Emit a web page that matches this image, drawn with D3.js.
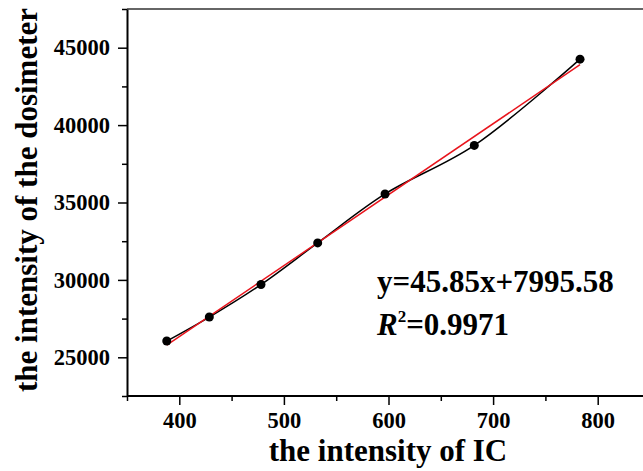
<!DOCTYPE html>
<html lang="en">
    <head>
        <meta charset="utf-8">
        <title>Dosimeter vs IC</title>
        <script type="text/javascript" src="https://d3js.org/d3.v7.min.js"></script>
        <style type="text/css">
          body { margin: 0; background: #fff; }
          svg { width: 643px; height: 471px; display: block; }
          text { font-family: "Liberation Serif", "Times New Roman", serif; font-weight: bold; fill: #000; }
        </style>
    </head>
    <body>
      <svg></svg>

        <script type="text/javascript">

        // measured points
        const icValues = [388, 428.7, 478.1, 532.3, 596.7, 682, 783.1];
        const dosimeterValues = [26050, 27600, 29700, 32390, 35550, 38690, 44260];

        // fit shown on the chart
        const fitCoef = [45.85, 7995.58];   // slope, intercept
        const fitRange = [388, 783.1];

        const xMajor = [400, 500, 600, 700, 800];
        const xMinor = [350, 450, 550, 650, 750, 850];
        const yMajor = [25000, 30000, 35000, 40000, 45000];
        const yMinor = [22500, 27500, 32500, 37500, 42500, 47500];

        const svg = d3.select("svg");

        const x = d3.scaleLinear().domain([350, 850]).range([127, 650]);
        const y = d3.scaleLinear().domain([22500, 47500]).range([396, 9]);

        // top frame line (gray)
        svg.append("line")
           .attr("x1", x(350)).attr("x2", 643)
           .attr("y1", y(47500)).attr("y2", y(47500))
           .attr("stroke", "#666").attr("stroke-width", 2);

        //minor ticks
        svg.append("g")
           .attr("transform", `translate(0,${y(22500)})`)
           .call(d3.axisBottom(x).tickValues(xMinor).tickSize(5).tickFormat(""))
           .call(g => g.select(".domain").remove())
           .selectAll("line").attr("stroke-width", 1.5);
        svg.append("g")
           .attr("transform", `translate(${x(350)},0)`)
           .call(d3.axisLeft(y).tickValues(yMinor).tickSize(5).tickFormat(""))
           .call(g => g.select(".domain").remove())
           .selectAll("line").attr("stroke-width", 1.5);

        //major axes
        const xAxis = svg.append("g")
           .attr("transform", `translate(0,${y(22500)})`)
           .call(d3.axisBottom(x).tickValues(xMajor).tickSize(9).tickPadding(7).tickSizeOuter(0).tickFormat(d3.format("d")))
           .attr("font-size", null).attr("font-family", null);
        xAxis.select(".domain").attr("stroke-width", 2).attr("d", `M${x(350)},0H643`);
        xAxis.selectAll(".tick line").attr("stroke-width", 1.5);

        const yAxis = svg.append("g")
           .attr("transform", `translate(${x(350)},0)`)
           .call(d3.axisLeft(y).tickValues(yMajor).tickSize(9).tickPadding(8).tickSizeOuter(0).tickFormat(d3.format("d")))
           .attr("font-size", null).attr("font-family", null);
        yAxis.select(".domain").attr("stroke-width", 2);
        yAxis.selectAll(".tick line").attr("stroke-width", 1.5);

        svg.selectAll(".tick text").style("font-size", "22.5px");

        //data curve
        const pts = icValues.map((v, i) => [v, dosimeterValues[i]]);
        svg.append("path")
           .datum(pts)
           .attr("fill", "none")
           .attr("stroke", "#000")
           .attr("stroke-width", 1.5)
           .attr("d", d3.line().x(d => x(d[0])).y(d => y(d[1])).curve(d3.curveCatmullRom.alpha(0.5)));

        //fit line
        svg.append("path")
           .datum(fitRange.map(v => [v, fitCoef[0] * v + fitCoef[1]]))
           .attr("fill", "none")
           .attr("stroke", "#e8141c")
           .attr("stroke-width", 1.5)
           .attr("d", d3.line().x(d => x(d[0])).y(d => y(d[1])));

        svg.selectAll("circle")
           .data(pts)
           .enter()
           .append("circle")
           .attr("cx", d => x(d[0]))
           .attr("cy", d => y(d[1]))
           .attr("r", 4.5)
           .attr("fill", "#000");

        //titles
        svg.append("text")
           .attr("x", 388).attr("y", 461)
           .attr("text-anchor", "middle")
           .attr("font-size", 31)
           .text("the intensity of IC");

        svg.append("text")
           .attr("transform", "translate(37,200) rotate(-90)")
           .attr("text-anchor", "middle")
           .attr("font-size", 31)
           .text("the intensity of the dosimeter");

        //equation
        svg.append("text")
           .attr("x", 377).attr("y", 292)
           .attr("font-size", 31)
           .text("y=45.85x+7995.58");

        const r2 = svg.append("text")
           .attr("x", 377).attr("y", 335)
           .attr("font-size", 31);
        r2.append("tspan").attr("font-style", "italic").text("R");
        r2.append("tspan").attr("font-size", 17).attr("dy", -13).text("2");
        r2.append("tspan").attr("dy", 13).text("=0.9971");
    </script>
</body>
</html>
